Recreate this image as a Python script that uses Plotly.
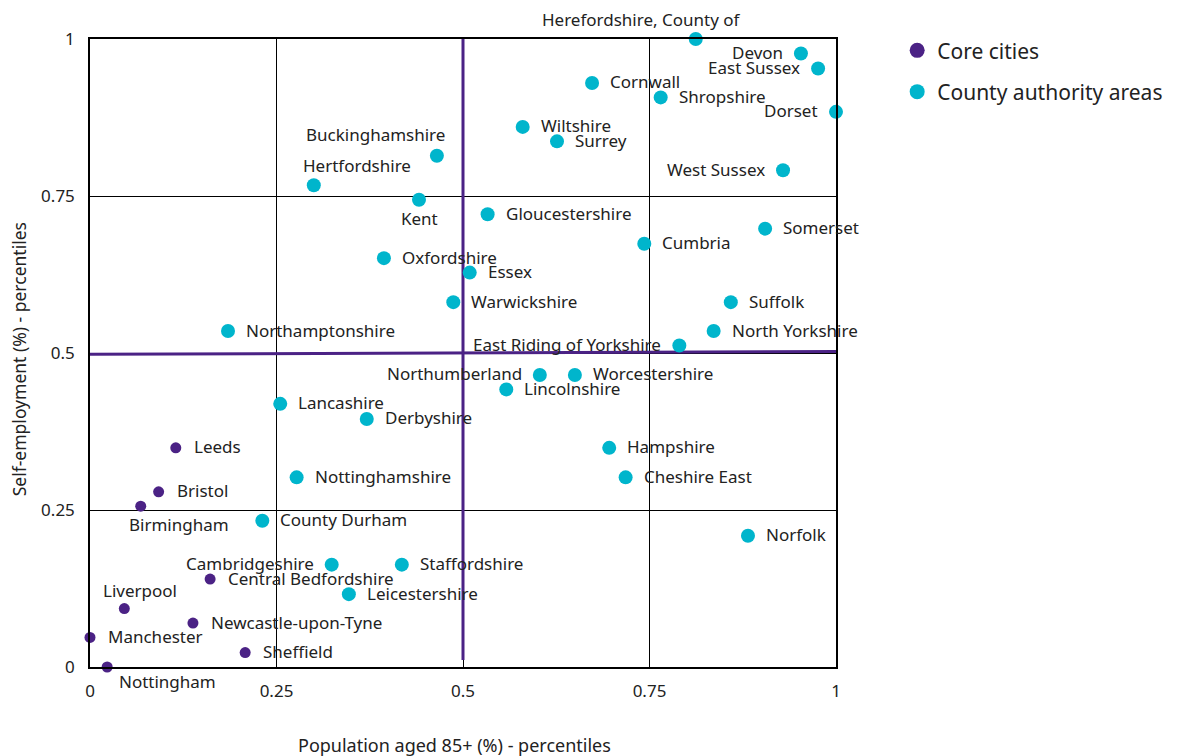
import plotly.graph_objects as go

# ---- data (percentile ranks) ----
county_names = ["Herefordshire, County of", "Devon", "East Sussex", "Cornwall", "Shropshire", "Dorset",
                "Wiltshire", "Surrey", "Buckinghamshire", "West Sussex", "Hertfordshire", "Kent",
                "Gloucestershire", "Somerset", "Cumbria", "Oxfordshire", "Essex", "Warwickshire",
                "Suffolk", "Northamptonshire", "North Yorkshire", "East Riding of Yorkshire",
                "Northumberland", "Worcestershire", "Lincolnshire", "Lancashire", "Derbyshire",
                "Hampshire", "Nottinghamshire", "Cheshire East", "County Durham", "Norfolk",
                "Cambridgeshire", "Staffordshire", "Leicestershire"]
county_x = [0.812, 0.953, 0.976, 0.673, 0.765, 1.0,
            0.580, 0.626, 0.465, 0.929, 0.300, 0.441,
            0.533, 0.905, 0.743, 0.394, 0.509, 0.487,
            0.859, 0.185, 0.836, 0.790,
            0.603, 0.650, 0.558, 0.255, 0.371,
            0.696, 0.277, 0.718, 0.231, 0.882,
            0.324, 0.418, 0.347]
county_y = [1.0, 0.977, 0.953, 0.930, 0.907, 0.884,
            0.860, 0.837, 0.814, 0.791, 0.767, 0.744,
            0.721, 0.698, 0.674, 0.651, 0.628, 0.581,
            0.581, 0.535, 0.535, 0.512,
            0.465, 0.465, 0.442, 0.419, 0.395,
            0.349, 0.302, 0.302, 0.233, 0.209,
            0.163, 0.163, 0.116]

core_names = ["Leeds", "Bristol", "Birmingham", "Central Bedfordshire", "Liverpool",
              "Newcastle-upon-Tyne", "Manchester", "Sheffield", "Nottingham"]
core_x = [0.115, 0.092, 0.068, 0.161, 0.046, 0.138, 0.0, 0.208, 0.023]
core_y = [0.349, 0.279, 0.256, 0.140, 0.093, 0.070, 0.047, 0.023, 0.0]

ref_h_x = [0, 1]
ref_h_y = [0.498, 0.5025]
ref_v_x = [0.5, 0.5]
ref_v_y = [0.011, 1.0]

tick_vals = [0, 0.25, 0.5, 0.75, 1]
tick_text = ["0", "0.25", "0.5", "0.75", "1"]

# ---- styles ----
PURPLE = "#4b2285"
CYAN = "#00b5cc"
FONT = "Noto Sans"
TEXT = "#222222"
LABEL_SIZE = 17

# label placement: 'r' right of point, 'l' left, or (dx, dy) pixel offset of text centre
label_pos = {
    "Herefordshire, County of": (-54, 20),
    "Devon": "l", "East Sussex": "l", "Dorset": "l", "West Sussex": "l",
    "Northumberland": "l", "Cambridgeshire": "l", "East Riding of Yorkshire": "l",
    "Buckinghamshire": (-61, 21),
    "Hertfordshire": (43, 20),
    "Kent": (1, -19),
    "Birmingham": (38, -18),
    "Liverpool": (16, 18),
    "Nottingham": (60, -14),
}

fig = go.Figure()

fig.add_trace(go.Scatter(x=ref_h_x, y=ref_h_y, mode="lines",
                         line=dict(color=PURPLE, width=3), showlegend=False, hoverinfo="skip",
                         cliponaxis=False))
fig.add_trace(go.Scatter(x=ref_v_x, y=ref_v_y, mode="lines",
                         line=dict(color=PURPLE, width=3), showlegend=False, hoverinfo="skip",
                         cliponaxis=False))

fig.add_trace(go.Scatter(x=county_x, y=county_y, mode="markers", text=county_names,
                         marker=dict(color=CYAN, size=14), showlegend=False, cliponaxis=False))
fig.add_trace(go.Scatter(x=core_x, y=core_y, mode="markers", text=core_names,
                         marker=dict(color=PURPLE, size=11), showlegend=False, cliponaxis=False))

# legend-only entries
fig.add_trace(go.Scatter(x=[None], y=[None], mode="markers", name="Core cities",
                         marker=dict(color=PURPLE, size=15), legendgroup="a"))
fig.add_trace(go.Scatter(x=[None], y=[None], mode="markers", name="County authority areas",
                         marker=dict(color=CYAN, size=15), legendgroup="b"))

annotations = []
for names, xs, ys in [(county_names, county_x, county_y), (core_names, core_x, core_y)]:
    for n, xv, yv in zip(names, xs, ys):
        p = label_pos.get(n, "r")
        a = dict(x=xv, y=yv, xref="x", yref="y", text=n, showarrow=False,
                 font=dict(family=FONT, size=LABEL_SIZE, color=TEXT), yanchor="middle")
        if p == "r":
            a.update(xanchor="left", xshift=16, yshift=1)
        elif p == "l":
            a.update(xanchor="right", xshift=-16, yshift=1)
        else:
            a.update(xanchor="center", xshift=p[0], yshift=p[1])
        annotations.append(a)

annotations.append(dict(x=0.488, y=0, xref="paper", yref="paper", yshift=-78,
                        text="Population aged 85+ (%) - percentiles", showarrow=False,
                        font=dict(family=FONT, size=18, color=TEXT), xanchor="center", yanchor="middle"))
annotations.append(dict(x=0, y=0.49, xref="paper", yref="paper", xshift=-71,
                        text="Self-employment (%) - percentiles", showarrow=False, textangle=-90,
                        font=dict(family=FONT, size=17.5, color=TEXT), xanchor="center", yanchor="middle"))

axis_common = dict(range=[0, 1], tickvals=tick_vals, ticktext=tick_text, showgrid=True,
                   gridcolor="black", gridwidth=1, zeroline=False, showline=True,
                   linecolor="black", linewidth=1.5, mirror=True, ticks="",
                   tickfont=dict(family=FONT, size=17, color=TEXT))

# page body has an 8px margin, so the figure is 8px smaller and its plot area offset accordingly
fig.update_layout(
    width=1176, height=748,
    margin=dict(l=82, r=348, t=31, b=89),
    plot_bgcolor="white", paper_bgcolor="white",
    xaxis=dict(**axis_common, ticklabelstandoff=8),
    yaxis=dict(**axis_common, ticklabelstandoff=10),
    annotations=annotations,
    legend=dict(x=1.082, y=1.014, xanchor="left", yanchor="top",
                font=dict(family=FONT, size=21, color=TEXT), tracegroupgap=11,
                bgcolor="rgba(0,0,0,0)"),
    font=dict(family=FONT, color=TEXT),
)

fig.write_html("out.html")
